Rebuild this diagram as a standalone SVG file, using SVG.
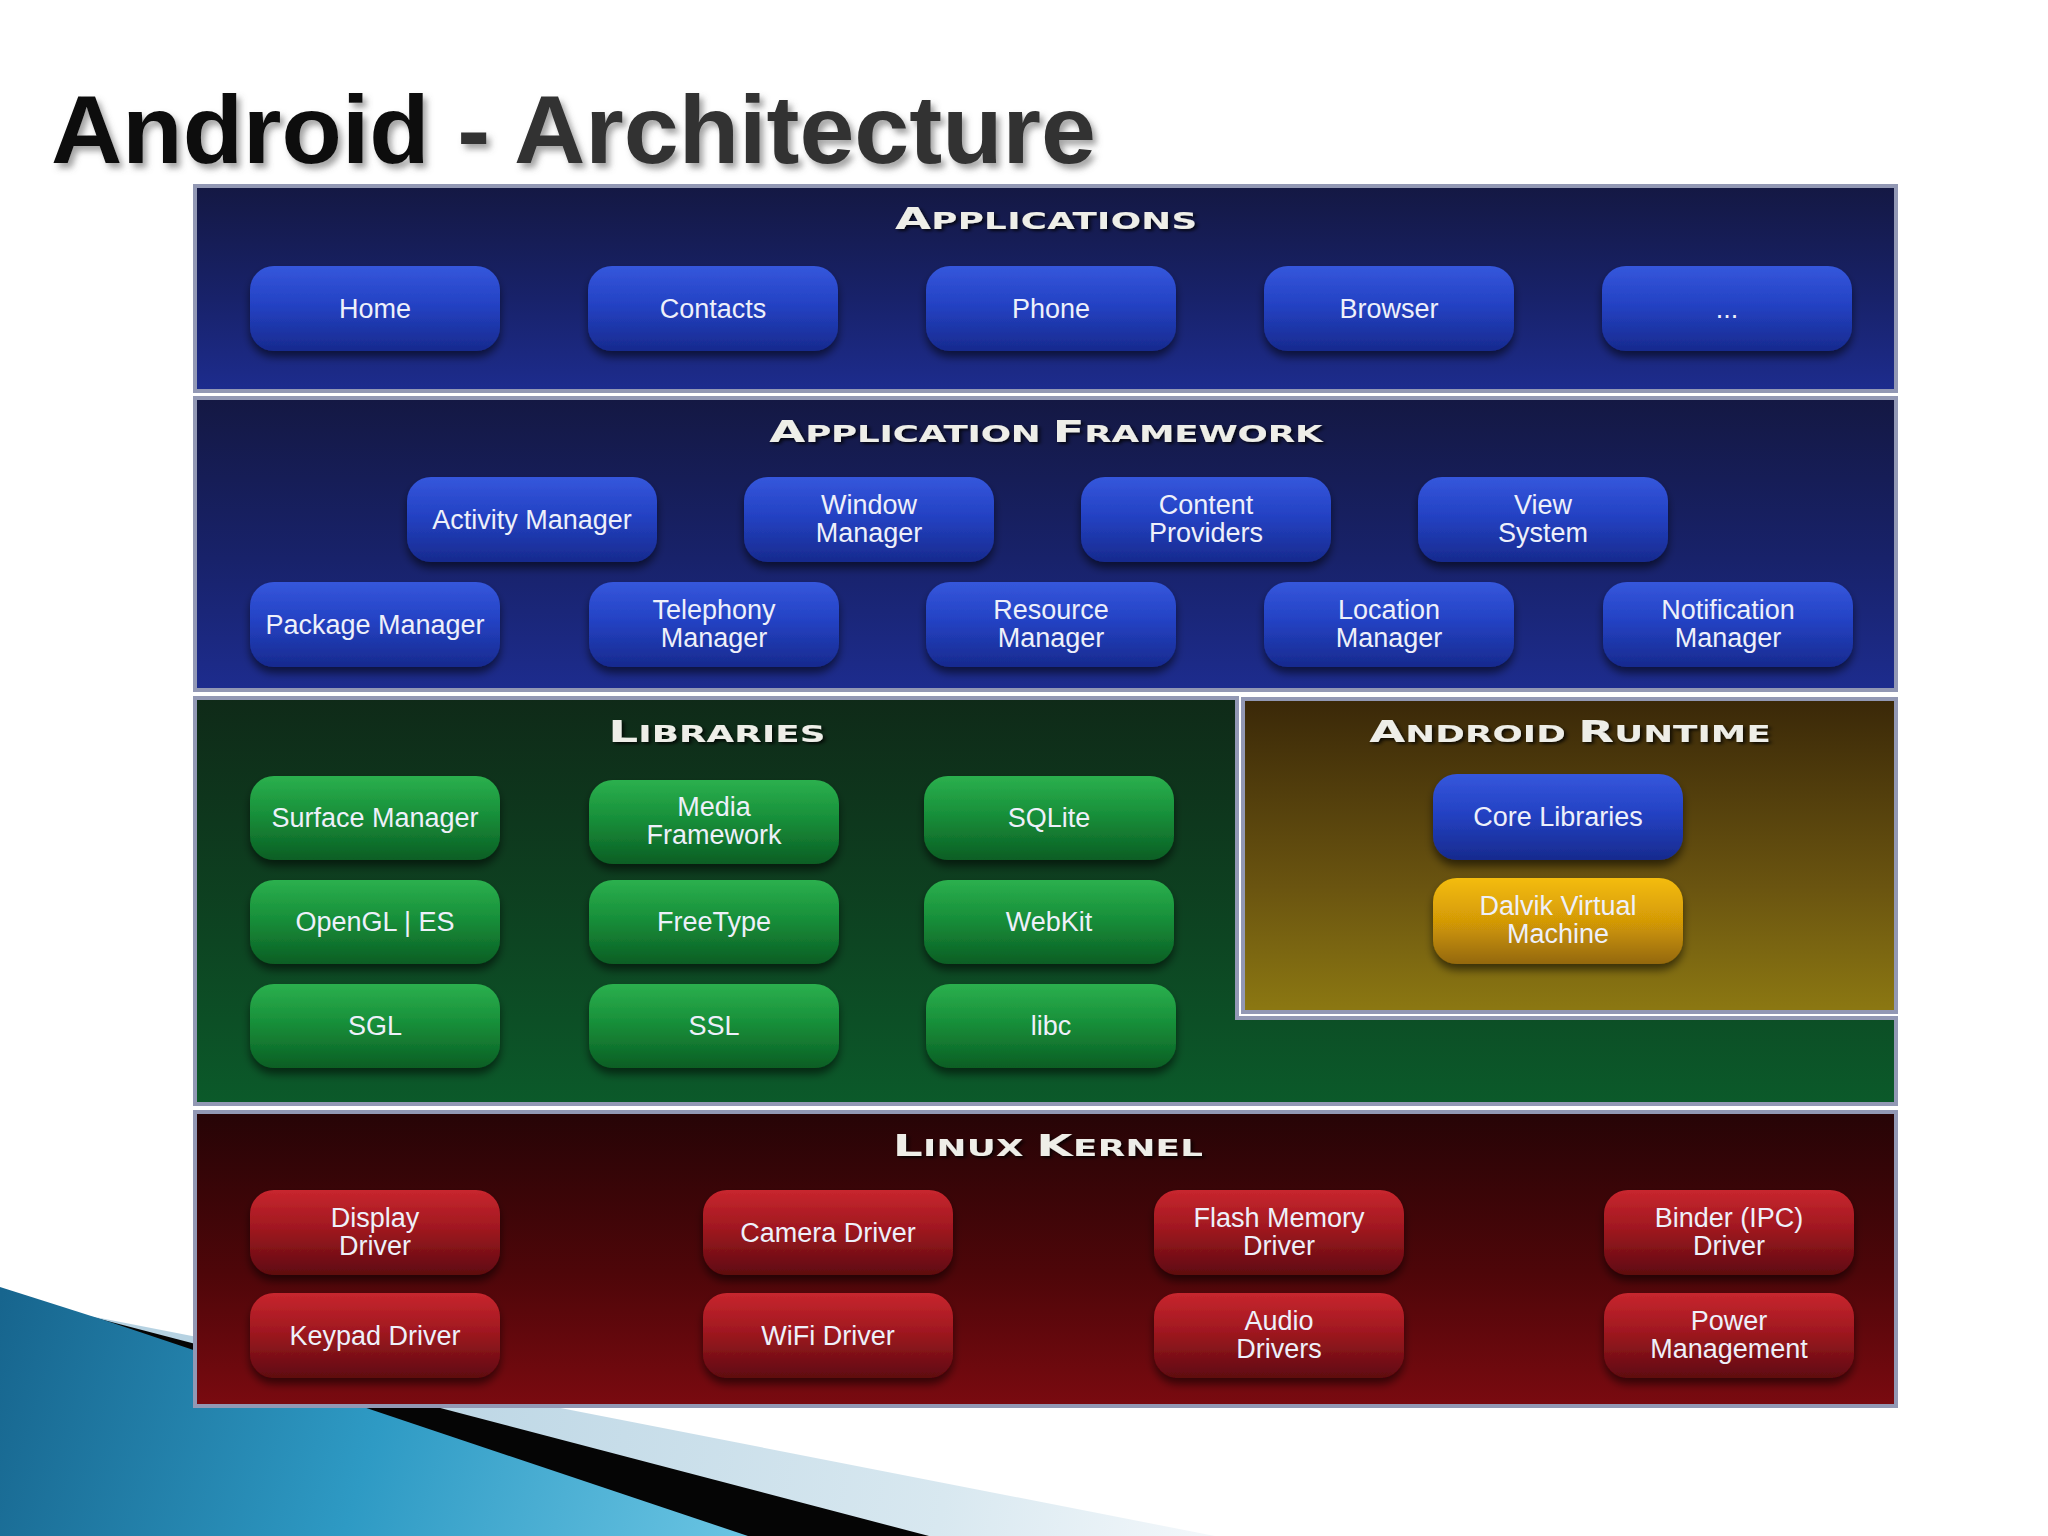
<svg xmlns="http://www.w3.org/2000/svg" width="2048" height="1536" viewBox="0 0 2048 1536">
<defs>
  <linearGradient id="pNavy" x1="0" y1="0" x2="0" y2="1">
    <stop offset="0" stop-color="#141843"/>
    <stop offset="0.55" stop-color="#18226a"/>
    <stop offset="1" stop-color="#1d2c8e"/>
  </linearGradient>
  <linearGradient id="pGreen" x1="0" y1="0" x2="0" y2="1">
    <stop offset="0" stop-color="#0f2a18"/>
    <stop offset="0.6" stop-color="#0d4522"/>
    <stop offset="1" stop-color="#0b5a2a"/>
  </linearGradient>
  <linearGradient id="pOlive" x1="0" y1="0" x2="0" y2="1">
    <stop offset="0" stop-color="#3a2808"/>
    <stop offset="0.6" stop-color="#6a5410"/>
    <stop offset="1" stop-color="#8c7812"/>
  </linearGradient>
  <linearGradient id="pRed" x1="0" y1="0" x2="0" y2="1">
    <stop offset="0" stop-color="#260406"/>
    <stop offset="0.55" stop-color="#4e0609"/>
    <stop offset="1" stop-color="#7a0a10"/>
  </linearGradient>
  <linearGradient id="bBlue" x1="0" y1="0" x2="0" y2="1">
    <stop offset="0" stop-color="#3557dc"/>
    <stop offset="0.45" stop-color="#2442c4"/>
    <stop offset="1" stop-color="#172a8e"/>
  </linearGradient>
  <linearGradient id="bGreen" x1="0" y1="0" x2="0" y2="1">
    <stop offset="0" stop-color="#2bb04e"/>
    <stop offset="0.45" stop-color="#18903a"/>
    <stop offset="1" stop-color="#0b5e24"/>
  </linearGradient>
  <linearGradient id="bRed" x1="0" y1="0" x2="0" y2="1">
    <stop offset="0" stop-color="#c8262e"/>
    <stop offset="0.45" stop-color="#a01820"/>
    <stop offset="1" stop-color="#5e0a10"/>
  </linearGradient>
  <linearGradient id="bGold" x1="0" y1="0" x2="0" y2="1">
    <stop offset="0" stop-color="#f4bc0a"/>
    <stop offset="0.5" stop-color="#d49a06"/>
    <stop offset="1" stop-color="#94680a"/>
  </linearGradient>
  <linearGradient id="swBlue" x1="0" y1="1300" x2="760" y2="1536" gradientUnits="userSpaceOnUse">
    <stop offset="0" stop-color="#17658e"/>
    <stop offset="0.5" stop-color="#2e9ac4"/>
    <stop offset="1" stop-color="#6cc6e4"/>
  </linearGradient>
  <linearGradient id="swPale" x1="300" y1="1400" x2="1220" y2="1536" gradientUnits="userSpaceOnUse">
    <stop offset="0" stop-color="#b6d2e2"/>
    <stop offset="0.7" stop-color="#d8e8f0"/>
    <stop offset="1" stop-color="#f4f8fb"/>
  </linearGradient>
  <filter id="bs" x="-10%" y="-20%" width="120%" height="150%">
    <feDropShadow dx="0" dy="6" stdDeviation="4" flood-color="#000" flood-opacity="0.55"/>
  </filter>
  <filter id="ts" x="-5%" y="-20%" width="110%" height="150%">
    <feDropShadow dx="4" dy="5" stdDeviation="3" flood-color="#666" flood-opacity="0.6"/>
  </filter>
  <filter id="hs" x="-5%" y="-30%" width="110%" height="170%">
    <feDropShadow dx="1.5" dy="2" stdDeviation="1.5" flood-color="#000" flood-opacity="0.8"/>
  </filter>
</defs>
<style>
  .panel { stroke: #9298b4; stroke-width: 4; }
  .btn { filter: url(#bs); }
  .bt { font-family: "Liberation Sans", Arial, sans-serif; font-size: 27px; fill: #eef0fa; text-anchor: middle; }
  .hdr { font-family: "DejaVu Sans", "Liberation Sans", sans-serif; font-weight: bold; fill: #eeeee8; text-anchor: middle; filter: url(#hs); }
  .big { font-size: 30px; }
  .sm { font-size: 23px; }
</style>

<rect x="0" y="0" width="2048" height="1536" fill="#ffffff"/>

<!-- background swoosh -->
<g id="swoosh">
  <polygon points="100,1318 1215,1536 0,1536 0,1300" fill="url(#swPale)"/>
  <polygon points="96,1318 929,1536 0,1536 0,1296" fill="#050505"/>
  <path d="M0,1287 Q60,1306 110,1322 L748,1536 L0,1536 Z" fill="url(#swBlue)"/>
</g>

<!-- title -->
<g id="title" filter="url(#ts)">
  <text x="51" y="163" font-family="Liberation Sans, Arial, sans-serif" font-weight="bold" font-size="97" textLength="1045" lengthAdjust="spacingAndGlyphs"><tspan fill="#0d0d0d">Android</tspan><tspan fill="#333333"> - Architecture</tspan></text>
</g>

<!-- panels -->
<g id="panel-applications">
  <rect class="panel" x="195" y="186" width="1701" height="205" fill="url(#pNavy)"/>
  <text class="hdr" transform="translate(1046,229) scale(1.55,1)" x="0" y="0" textLength="195" lengthAdjust="spacing"><tspan class="big">A</tspan><tspan class="sm">PPLICATIONS</tspan></text>
</g>
<g id="panel-framework">
  <rect class="panel" x="195" y="398" width="1701" height="292" fill="url(#pNavy)"/>
  <text class="hdr" transform="translate(1046,442) scale(1.55,1)" x="0" y="0" textLength="357" lengthAdjust="spacing"><tspan class="big">A</tspan><tspan class="sm">PPLICATION </tspan><tspan class="big">F</tspan><tspan class="sm">RAMEWORK</tspan></text>
</g>
<g id="panel-libraries">
  <path class="panel" d="M195,698 L1237,698 L1237,1018 L1896,1018 L1896,1104 L195,1104 Z" fill="url(#pGreen)"/>
  <text class="hdr" transform="translate(717,742) scale(1.55,1)" x="0" y="0" textLength="140" lengthAdjust="spacing"><tspan class="big">L</tspan><tspan class="sm">IBRARIES</tspan></text>
</g>
<g id="panel-runtime">
  <rect class="panel" x="1243" y="699" width="653" height="313" fill="url(#pOlive)"/>
  <text class="hdr" transform="translate(1570,742) scale(1.55,1)" x="0" y="0" textLength="259" lengthAdjust="spacing"><tspan class="big">A</tspan><tspan class="sm">NDROID </tspan><tspan class="big">R</tspan><tspan class="sm">UNTIME</tspan></text>
</g>
<g id="panel-kernel">
  <rect class="panel" x="195" y="1112" width="1701" height="294" fill="url(#pRed)"/>
  <text class="hdr" transform="translate(1048,1156) scale(1.55,1)" x="0" y="0" textLength="200" lengthAdjust="spacing"><tspan class="big">L</tspan><tspan class="sm">INUX </tspan><tspan class="big">K</tspan><tspan class="sm">ERNEL</tspan></text>
</g>

<!-- Applications -->
<g id="home"><rect class="btn" x="250" y="266" width="250" height="85" rx="24" fill="url(#bBlue)"/><text class="bt" x="375" y="318">Home</text></g>
<g id="contacts"><rect class="btn" x="588" y="266" width="250" height="85" rx="24" fill="url(#bBlue)"/><text class="bt" x="713" y="318">Contacts</text></g>
<g id="phone"><rect class="btn" x="926" y="266" width="250" height="85" rx="24" fill="url(#bBlue)"/><text class="bt" x="1051" y="318">Phone</text></g>
<g id="browser"><rect class="btn" x="1264" y="266" width="250" height="85" rx="24" fill="url(#bBlue)"/><text class="bt" x="1389" y="318">Browser</text></g>
<g id="more"><rect class="btn" x="1602" y="266" width="250" height="85" rx="24" fill="url(#bBlue)"/><text class="bt" x="1727" y="318">...</text></g>

<!-- Application Framework -->
<g id="activity-manager"><rect class="btn" x="407" y="477" width="250" height="85" rx="24" fill="url(#bBlue)"/><text class="bt" x="532" y="529">Activity Manager</text></g>
<g id="window-manager"><rect class="btn" x="744" y="477" width="250" height="85" rx="24" fill="url(#bBlue)"/><text class="bt" x="869" y="514">Window</text><text class="bt" x="869" y="542">Manager</text></g>
<g id="content-providers"><rect class="btn" x="1081" y="477" width="250" height="85" rx="24" fill="url(#bBlue)"/><text class="bt" x="1206" y="514">Content</text><text class="bt" x="1206" y="542">Providers</text></g>
<g id="view-system"><rect class="btn" x="1418" y="477" width="250" height="85" rx="24" fill="url(#bBlue)"/><text class="bt" x="1543" y="514">View</text><text class="bt" x="1543" y="542">System</text></g>
<g id="package-manager"><rect class="btn" x="250" y="582" width="250" height="85" rx="24" fill="url(#bBlue)"/><text class="bt" x="375" y="634">Package Manager</text></g>
<g id="telephony-manager"><rect class="btn" x="589" y="582" width="250" height="85" rx="24" fill="url(#bBlue)"/><text class="bt" x="714" y="619">Telephony</text><text class="bt" x="714" y="647">Manager</text></g>
<g id="resource-manager"><rect class="btn" x="926" y="582" width="250" height="85" rx="24" fill="url(#bBlue)"/><text class="bt" x="1051" y="619">Resource</text><text class="bt" x="1051" y="647">Manager</text></g>
<g id="location-manager"><rect class="btn" x="1264" y="582" width="250" height="85" rx="24" fill="url(#bBlue)"/><text class="bt" x="1389" y="619">Location</text><text class="bt" x="1389" y="647">Manager</text></g>
<g id="notification-manager"><rect class="btn" x="1603" y="582" width="250" height="85" rx="24" fill="url(#bBlue)"/><text class="bt" x="1728" y="619">Notification</text><text class="bt" x="1728" y="647">Manager</text></g>

<!-- Libraries -->
<g id="surface-manager"><rect class="btn" x="250" y="776" width="250" height="84" rx="24" fill="url(#bGreen)"/><text class="bt" x="375" y="827">Surface Manager</text></g>
<g id="media-framework"><rect class="btn" x="589" y="780" width="250" height="84" rx="24" fill="url(#bGreen)"/><text class="bt" x="714" y="816">Media</text><text class="bt" x="714" y="844">Framework</text></g>
<g id="sqlite"><rect class="btn" x="924" y="776" width="250" height="84" rx="24" fill="url(#bGreen)"/><text class="bt" x="1049" y="827">SQLite</text></g>
<g id="opengl-es"><rect class="btn" x="250" y="880" width="250" height="84" rx="24" fill="url(#bGreen)"/><text class="bt" x="375" y="931">OpenGL | ES</text></g>
<g id="freetype"><rect class="btn" x="589" y="880" width="250" height="84" rx="24" fill="url(#bGreen)"/><text class="bt" x="714" y="931">FreeType</text></g>
<g id="webkit"><rect class="btn" x="924" y="880" width="250" height="84" rx="24" fill="url(#bGreen)"/><text class="bt" x="1049" y="931">WebKit</text></g>
<g id="sgl"><rect class="btn" x="250" y="984" width="250" height="84" rx="24" fill="url(#bGreen)"/><text class="bt" x="375" y="1035">SGL</text></g>
<g id="ssl"><rect class="btn" x="589" y="984" width="250" height="84" rx="24" fill="url(#bGreen)"/><text class="bt" x="714" y="1035">SSL</text></g>
<g id="libc"><rect class="btn" x="926" y="984" width="250" height="84" rx="24" fill="url(#bGreen)"/><text class="bt" x="1051" y="1035">libc</text></g>

<!-- Android Runtime -->
<g id="core-libraries"><rect class="btn" x="1433" y="774" width="250" height="86" rx="24" fill="url(#bBlue)"/><text class="bt" x="1558" y="826">Core Libraries</text></g>
<g id="dalvik-vm"><rect class="btn" x="1433" y="878" width="250" height="86" rx="24" fill="url(#bGold)"/><text class="bt" x="1558" y="915" fill="#f6ecd0">Dalvik Virtual</text><text class="bt" x="1558" y="943" fill="#f6ecd0">Machine</text></g>

<!-- Linux Kernel -->
<g id="display-driver"><rect class="btn" x="250" y="1190" width="250" height="85" rx="24" fill="url(#bRed)"/><text class="bt" x="375" y="1227">Display</text><text class="bt" x="375" y="1255">Driver</text></g>
<g id="camera-driver"><rect class="btn" x="703" y="1190" width="250" height="85" rx="24" fill="url(#bRed)"/><text class="bt" x="828" y="1242">Camera Driver</text></g>
<g id="flash-memory-driver"><rect class="btn" x="1154" y="1190" width="250" height="85" rx="24" fill="url(#bRed)"/><text class="bt" x="1279" y="1227">Flash Memory</text><text class="bt" x="1279" y="1255">Driver</text></g>
<g id="binder-driver"><rect class="btn" x="1604" y="1190" width="250" height="85" rx="24" fill="url(#bRed)"/><text class="bt" x="1729" y="1227">Binder (IPC)</text><text class="bt" x="1729" y="1255">Driver</text></g>
<g id="keypad-driver"><rect class="btn" x="250" y="1293" width="250" height="85" rx="24" fill="url(#bRed)"/><text class="bt" x="375" y="1345">Keypad Driver</text></g>
<g id="wifi-driver"><rect class="btn" x="703" y="1293" width="250" height="85" rx="24" fill="url(#bRed)"/><text class="bt" x="828" y="1345">WiFi Driver</text></g>
<g id="audio-drivers"><rect class="btn" x="1154" y="1293" width="250" height="85" rx="24" fill="url(#bRed)"/><text class="bt" x="1279" y="1330">Audio</text><text class="bt" x="1279" y="1358">Drivers</text></g>
<g id="power-management"><rect class="btn" x="1604" y="1293" width="250" height="85" rx="24" fill="url(#bRed)"/><text class="bt" x="1729" y="1330">Power</text><text class="bt" x="1729" y="1358">Management</text></g>

<g id="connectors"/>
</svg>
